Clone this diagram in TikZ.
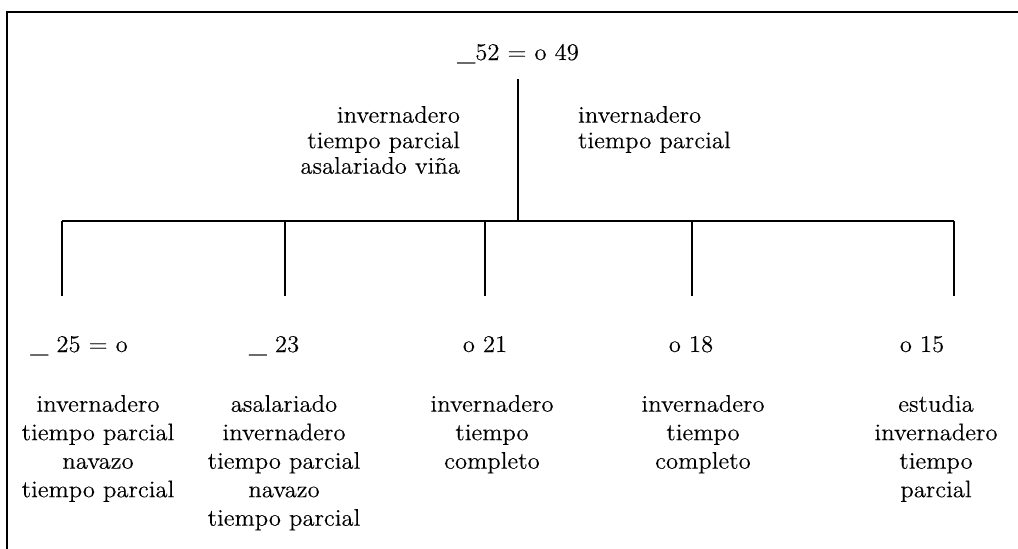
\documentclass[tikz,border=0pt]{standalone}
\usepackage{fontspec}
\setmainfont{lmroman12-regular.otf}[FakeStretch=1.03, FakeBold=0.2]
\usepackage{tikz}
\usetikzlibrary{positioning}

\tikzset{
    lbl/.style={font=\fontsize{24}{25.5}\selectfont, inner sep=0pt},
    blk/.style={lbl, font=\fontsize{24}{28.5}\selectfont, align=center, anchor=north},
}

\begin{document}
\begin{tikzpicture}[x=1pt, y=-1pt, line width=2.1pt]
    \useasboundingbox (0,0) rectangle (1018,549);

    % Frame (top and left only)
    \draw[line width=2pt] (1018,12) -- (7,12) -- (7,549);

    % Root
    \node[lbl, anchor=base] (root) at (518,60) {\_52 = o 49};
    \coordinate (trunktop) at (518,79);
    \coordinate (split) at (518,221);
    \draw (trunktop) -- (split);

    % Labels beside the trunk
    \node[lbl, align=right, anchor=north east] (leftnote) at (461,105)
        {invernadero\\tiempo parcial\\asalariado viña};
    \node[lbl, align=left, anchor=north west] (rightnote) at (577,105)
        {invernadero\\tiempo parcial};

    % Horizontal bar and drops
    \foreach \i/\x in {1/62, 2/285, 3/485, 4/692, 5/954} {
        \coordinate (b\i) at (\x,221);
        \coordinate (e\i) at (\x,296);
        \draw (b\i) -- (e\i);
    }
    \draw (b1) -- (b5);

    % Ages
    \node[lbl, anchor=base] (age1) at (79,352) {\_ 25 = o};
    \node[lbl, anchor=base] (age2) at (274,352) {\_ 23};
    \node[lbl, anchor=base] (age3) at (485,352) {o 21};
    \node[lbl, anchor=base] (age4) at (691,352) {o 18};
    \node[lbl, anchor=base] (age5) at (922,352) {o 15};

    % Occupations
    \node[blk] (job1) at (98,394) {invernadero\\tiempo parcial\\navazo\\tiempo parcial};
    \node[blk] (job2) at (284,394) {asalariado\\invernadero\\tiempo parcial\\navazo\\tiempo parcial};
    \node[blk] (job3) at (492,394) {invernadero\\tiempo\\completo};
    \node[blk] (job4) at (703,394) {invernadero\\tiempo\\completo};
    \node[blk] (job5) at (936,394) {estudia\\invernadero\\tiempo\\parcial};
\end{tikzpicture}
\end{document}
